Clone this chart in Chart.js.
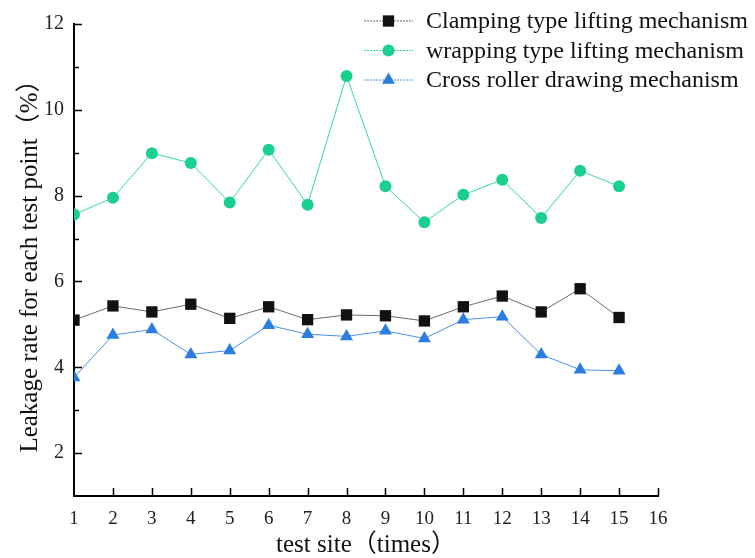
<!DOCTYPE html>
<html>
<head>
<meta charset="utf-8">
<script src="https://cdn.jsdelivr.net/npm/chart.js@4"></script>
<style>
  html, body { margin: 0; padding: 0; background: #fff; }
  #wrap { width: 755px; height: 558px; }
</style>
</head>
<body>
<div id="wrap"><canvas id="c" width="755" height="558"></canvas></div>
<script>
/* ── data ── */
const sites = [1, 2, 3, 4, 5, 6, 7, 8, 9, 10, 11, 12, 13, 14, 15];
const clamping = [5.10, 5.43, 5.29, 5.47, 5.14, 5.41, 5.11, 5.22, 5.20, 5.08, 5.41, 5.66, 5.29, 5.83, 5.16];
const wrapping = [7.56, 7.95, 8.99, 8.76, 7.84, 9.07, 7.79, 10.79, 8.22, 7.38, 8.02, 8.37, 7.48, 8.58, 8.22];
const crossRoller = [3.76, 4.75, 4.88, 4.30, 4.39, 4.98, 4.77, 4.72, 4.85, 4.67, 5.11, 5.18, 4.30, 3.94, 3.92];
const seriesNames = ['Clamping type lifting mechanism', 'wrapping type lifting mechanism', 'Cross roller drawing mechanism'];
const yTickLabels = [2, 4, 6, 8, 10, 12];
const xTickLabels = [1, 2, 3, 4, 5, 6, 7, 8, 9, 10, 11, 12, 13, 14, 15, 16];

const SERIF = "'Liberation Serif', 'Times New Roman', 'Noto Sans CJK SC', serif";
const pts = vals => sites.map((s, i) => ({ x: s, y: vals[i] }));

// marker drawing shared by legend
function marker(ctx, style, x, y, r, color) {
  ctx.save();
  ctx.fillStyle = color;
  ctx.beginPath();
  if (style === 'rect') {
    const h = Math.SQRT1_2 * r;
    ctx.rect(x - h, y - h, 2 * h, 2 * h);
  } else if (style === 'triangle') {
    for (let k = 0; k < 3; k++) {
      const a = k * 2 * Math.PI / 3;
      const px = x + Math.sin(a) * r, py = y - Math.cos(a) * r;
      k ? ctx.lineTo(px, py) : ctx.moveTo(px, py);
    }
    ctx.closePath();
  } else {
    ctx.arc(x, y, r, 0, Math.PI * 2);
  }
  ctx.fill();
  ctx.restore();
}

const axisTicks = {
  id: 'axisTicks',
  afterDraw(chart) {
    const { ctx, scales: { x, y }, chartArea: a } = chart;
    ctx.save();
    ctx.strokeStyle = '#000';
    ctx.lineWidth = 1.5;
    ctx.beginPath();
    for (let v = 2; v <= 12; v++) {
      const py = Math.round(y.getPixelForValue(v)) + 0.5;
      const len = v % 2 === 0 ? 8 : 5;
      ctx.moveTo(a.left, py); ctx.lineTo(a.left + len, py);
    }
    for (let v = 2; v <= 16; v++) {
      const px = Math.round(x.getPixelForValue(v)) + 0.5;
      ctx.moveTo(px, a.bottom); ctx.lineTo(px, a.bottom - 8);
    }
    ctx.stroke();
    ctx.restore();
  }
};

const inLegend = {
  id: 'inLegend',
  afterDraw(chart) {
    const ctx = chart.ctx;
    chart.data.datasets.forEach((ds, i) => {
      const cy = 21 + i * 29.5;
      ctx.save();
      ctx.strokeStyle = ds.borderColor;
      ctx.lineWidth = 1;
      ctx.setLineDash([2, 1]);
      ctx.beginPath();
      ctx.moveTo(364, cy); ctx.lineTo(413, cy);
      ctx.stroke();
      ctx.restore();
      marker(ctx, ds.pointStyle, 388.5, cy, ds.pointRadius, ds.pointBackgroundColor);
      ctx.save();
      ctx.fillStyle = '#111';
      ctx.font = '24px ' + SERIF;
      ctx.textBaseline = 'middle';
      ctx.fillText(ds.label, 426, cy + 1);
      ctx.restore();
    });
  }
};

new Chart(document.getElementById('c'), {
  type: 'line',
  data: {
    datasets: [
      { label: seriesNames[0], data: pts(clamping), borderColor: '#6b6b6b', borderWidth: 1,
        pointStyle: 'rect', pointRadius: 8, pointBackgroundColor: '#111', pointBorderWidth: 0 },
      { label: seriesNames[1], data: pts(wrapping), borderColor: '#34d9a2', borderWidth: 1,
        pointStyle: 'circle', pointRadius: 6, pointBackgroundColor: '#1bcf8e', pointBorderWidth: 0 },
      { label: seriesNames[2], data: pts(crossRoller), borderColor: '#4a8fe6', borderWidth: 1,
        pointStyle: 'triangle', pointRadius: 7.5, pointBackgroundColor: '#2b7de0', pointBorderWidth: 0 }
    ]
  },
  options: {
    responsive: false,
    devicePixelRatio: 1,
    animation: false,
    layout: { padding: { top: 24, right: 97, left: 0, bottom: 0 } },
    plugins: { legend: { display: false }, tooltip: { enabled: false } },
    scales: {
      x: {
        type: 'linear', min: 1, max: 16,
        afterFit: s => { s.height = 62; },
        afterBuildTicks: s => { s.ticks = xTickLabels.map(v => ({ value: v })); },
        grid: { display: false, drawTicks: false },
        border: { display: true, color: '#000', width: 2 },
        ticks: { color: '#222', padding: 12, font: { family: SERIF, size: 19 } },
        title: { display: true, text: 'test site（times）', color: '#111',
                 font: { family: SERIF, size: 25, lineHeight: 1 }, padding: { top: 0, bottom: 0 } }
      },
      y: {
        min: 1, max: 12,
        afterFit: s => { s.width = 74; },
        afterBuildTicks: s => { s.ticks = yTickLabels.map(v => ({ value: v })); },
        grid: { display: false, drawTicks: false },
        border: { display: true, color: '#000', width: 2 },
        ticks: { color: '#222', padding: 10, font: { family: SERIF, size: 20 } },
        title: { display: true, text: 'Leakage rate for each test point（%）', color: '#111',
                 font: { family: SERIF, size: 25, lineHeight: 1 }, padding: { top: 18, bottom: 0 } }
      }
    }
  },
  plugins: [axisTicks, inLegend]
});
</script>
</body>
</html>
